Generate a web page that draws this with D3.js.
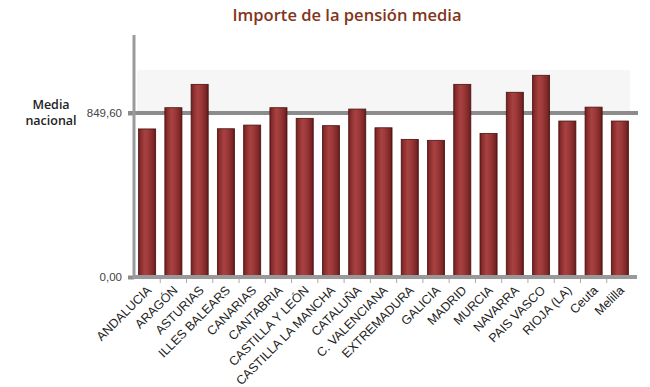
<!DOCTYPE html>
<html><head><meta charset="utf-8">
<script src="https://cdn.jsdelivr.net/npm/d3@7"></script>
<style>
body{margin:0;background:#fff;}
svg{display:block;}
</style></head>
<body><svg id="c" width="650" height="387"></svg>
<script>
const categories = ["ANDALUCIA","ARAGÓN","ASTURIAS","ILLES BALEARS","CANARIAS","CANTABRIA","CASTILLA Y LEÓN","CASTILLA LA MANCHA","CATALUÑA","C. VALENCIANA","EXTREMADURA","GALICIA","MADRID","MURCIA","NAVARRA","PAIS VASCO","RIOJA (LA)","Ceuta","Melilla"];
const pension = [767, 877, 998, 768, 787, 877, 822, 784, 870, 773, 713, 708, 998, 744, 957, 1045, 808, 880, 808];
const mediaNacional = 849.60;
const yTicks = [0, mediaNacional];
const title = "Importe de la pensión media";
const sideLabel = ["Media", "nacional"];

const svg = d3.select("#c");
const es = d3.formatLocale({decimal: ",", thousands: ".", grouping: [3], currency: ["", " €"]});
const fmt = es.format(".2f");

const x = d3.scaleBand().domain(categories).range([134, 633]).paddingInner(0.35).paddingOuter(0.175);
const y = d3.scaleLinear().domain([0, mediaNacional]).range([277, 113]);

const defs = svg.append("defs");
const g = defs.append("linearGradient").attr("id","barg").attr("x1","0").attr("x2","1").attr("y1","0").attr("y2","0");
[[0,"#6a1e1e"],[0.12,"#8a2c2c"],[0.38,"#a84242"],[0.6,"#9c3838"],[0.88,"#7c2626"],[1,"#5a1818"]].forEach(([o,c])=>g.append("stop").attr("offset",o).attr("stop-color",c));

// title
svg.append("text").attr("x", 347).attr("y", 21).attr("text-anchor","middle")
  .attr("font-family","'Open Sans', sans-serif").attr("font-weight",600).attr("font-size",17)
  .attr("fill","#82351a").attr("textLength",229).attr("lengthAdjust","spacingAndGlyphs").text(title);

// light band above mean
svg.append("rect").attr("x",137).attr("y",70).attr("width",493).attr("height", y(mediaNacional)-70).attr("fill","#f6f6f6");

// mean line
svg.append("line").attr("x1",128).attr("x2",638).attr("y1",y(mediaNacional)).attr("y2",y(mediaNacional))
  .attr("stroke","#8c8c8c").attr("stroke-width",4);

// y axis
const yAxis = d3.axisLeft(y).tickValues(yTicks).tickFormat(fmt).tickSize(6).tickPadding(6);
const ya = svg.append("g").attr("transform","translate(134,0)").call(yAxis);
ya.select(".domain").remove();
ya.selectAll(".tick line").attr("stroke","#8c8c8c").attr("stroke-width",4);
ya.selectAll(".tick text").attr("font-family","'Liberation Sans', Arial, sans-serif").attr("font-size",11.5).attr("fill","#444");
svg.append("line").attr("x1",134).attr("x2",134).attr("y1",35).attr("y2",279).attr("stroke","#9a9a9a").attr("stroke-width",3);

// side label
svg.append("text").attr("x",51).attr("y",109).attr("text-anchor","middle")
  .attr("font-family","'Open Sans', sans-serif").attr("font-weight",600).attr("font-size",12.5).attr("fill","#222")
  .selectAll("tspan").data(sideLabel).join("tspan").attr("x",51).attr("dy",(d,i)=>i?16:0).text(d=>d);

// bars
svg.append("g").selectAll("rect").data(pension).join("rect")
  .attr("x",(d,i)=>x(categories[i])).attr("width",x.bandwidth())
  .attr("y",d=>y(d)).attr("height",d=>y(0)-y(d))
  .attr("fill","url(#barg)").attr("stroke","#4a1212").attr("stroke-width",0.8);

// x axis baseline
svg.append("line").attr("x1",134).attr("x2",637).attr("y1",y(0)).attr("y2",y(0)).attr("stroke","#999").attr("stroke-width",4);
const xa = d3.axisBottom(x).tickSize(0).tickPadding(0);
const xg = svg.append("g").attr("transform",`translate(0,${y(0)})`).call(xa);
xg.select(".domain").remove();
xg.selectAll(".tick text")
  .attr("font-family","'Liberation Sans', Arial, sans-serif").attr("font-size",12.5).attr("fill","#222")
  .attr("text-anchor","end").attr("dy",null).attr("y",null)
  .attr("transform","translate(5,14) rotate(-45)");
xg.selectAll(".sep").data(categories.slice(1)).join("line").attr("class","sep")
  .attr("x1",d=>x(d)-x.step()*x.paddingInner()/2).attr("x2",d=>x(d)-x.step()*x.paddingInner()/2)
  .attr("y1",2).attr("y2",6).attr("stroke","#aaa").attr("stroke-width",1);
</script></body></html>
